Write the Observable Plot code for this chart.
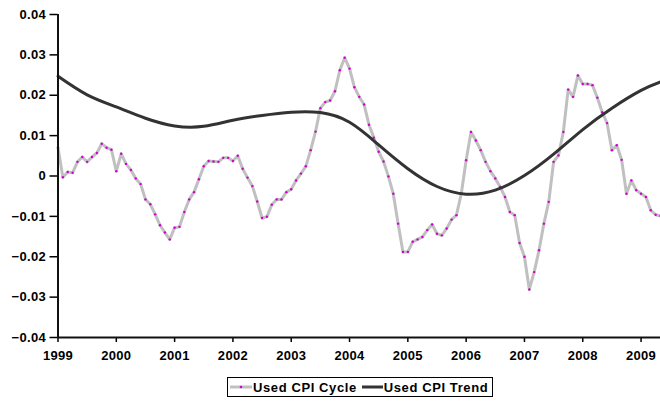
<!DOCTYPE html>
<html>
<head>
<meta charset="utf-8">
<script src="https://cdn.jsdelivr.net/npm/d3@7"></script>
<script src="https://cdn.jsdelivr.net/npm/@observablehq/plot@0.6"></script>
<style>
  html, body { margin: 0; padding: 0; background: #fff; }
  #wrap { position: relative; width: 660px; height: 405px; font-family: "Liberation Sans", Arial, sans-serif; }
  #legend { position: absolute; left: 227px; top: 377px; width: 264px; height: 18px; border: 1px solid #000;
            display: flex; align-items: center; font-weight: bold; font-size: 13px; letter-spacing: 0.6px; color: #000; background:#fff; }
  #legend .item { display: flex; align-items: center; }
  #legend svg { display: block; }
</style>
</head>
<body>
<div id="wrap"><div id="chart"></div><div id="legend"></div></div>
<script>
// Monthly cycle values, starting January 1999
const cycleStartYear = 1999;
const cycle1999 = [0.007, -0.0003, 0.001, 0.0008, 0.0035, 0.0047, 0.0035, 0.0047, 0.0057, 0.008, 0.007, 0.0065];
const cycle2000 = [0.0012, 0.0055, 0.003, 0.0015, -0.0006, -0.002, -0.0058, -0.007, -0.0095, -0.0122, -0.014, -0.0157];
const cycle2001 = [-0.0128, -0.0126, -0.0089, -0.0058, -0.004, -0.0008, 0.0024, 0.0037, 0.0036, 0.0035, 0.0045, 0.0045];
const cycle2002 = [0.0037, 0.005, 0.0018, -0.0004, -0.0025, -0.0063, -0.0104, -0.0101, -0.0071, -0.0058, -0.0058, -0.004];
const cycle2003 = [-0.0033, -0.0011, 0.0006, 0.0024, 0.0064, 0.011, 0.0168, 0.0183, 0.0187, 0.021, 0.0262, 0.0293];
const cycle2004 = [0.0266, 0.022, 0.0196, 0.0177, 0.0127, 0.0095, 0.006, 0.0036, -0.0001, -0.0044, -0.0118, -0.0188];
const cycle2005 = [-0.0188, -0.0163, -0.0157, -0.0151, -0.0134, -0.012, -0.0143, -0.0147, -0.013, -0.0108, -0.0097, -0.0044];
const cycle2006 = [0.0039, 0.0109, 0.0088, 0.0064, 0.0035, 0.0012, -0.0006, -0.0027, -0.0052, -0.0089, -0.0097, -0.0166];
const cycle2007 = [-0.02, -0.0281, -0.0238, -0.0184, -0.0118, -0.0064, 0.0035, 0.0051, 0.0109, 0.0214, 0.0196, 0.0249];
const cycle2008 = [0.0228, 0.0228, 0.0225, 0.0194, 0.0158, 0.0131, 0.0064, 0.0076, 0.004, -0.0044, -0.0011, -0.0035];
const cycle2009 = [-0.0044, -0.0052, -0.0085, -0.0096, -0.0099];

// Trend, read every half year
const trendYears  = [1999, 1999.5, 2000, 2000.5, 2001, 2001.5, 2002, 2002.5, 2003, 2003.5, 2004, 2004.5, 2005, 2005.5, 2006, 2006.5, 2007, 2007.5, 2008, 2008.5, 2009, 2009.3333];
const trendValues = [0.0247, 0.0201, 0.0171, 0.0143, 0.0124, 0.0123, 0.0138, 0.015, 0.0158, 0.0157, 0.0133, 0.0077, 0.0018, -0.0026, -0.0045, -0.0035, 0.0001, 0.0054, 0.0115, 0.0168, 0.0212, 0.0233];

const xTicks = [1999, 2000, 2001, 2002, 2003, 2004, 2005, 2006, 2007, 2008, 2009];
const yTicks = [-0.04, -0.03, -0.02, -0.01, 0, 0.01, 0.02, 0.03, 0.04];
const seriesNames = ["Used CPI Cycle", "Used CPI Trend"];

const cycleValues = [].concat(cycle1999, cycle2000, cycle2001, cycle2002, cycle2003, cycle2004, cycle2005, cycle2006, cycle2007, cycle2008, cycle2009);
const cycleData = cycleValues.map((v, i) => ({t: cycleStartYear + i / 12, v}));
const trendData = trendYears.map((t, i) => ({t, v: trendValues[i]}));

const fmtY = d => d === 0 ? "0" : d3.format(".2f")(d);

const chart = Plot.plot({
  width: 660,
  height: 372,
  marginLeft: 57.5,
  marginRight: 0,
  marginTop: 14,
  marginBottom: 35,
  style: {fontFamily: '"Liberation Sans", Arial, sans-serif', fontSize: "13px", fontWeight: "bold", color: "#000", background: "#fff", letterSpacing: "0.3px"},
  x: {domain: [1999, 2009 + 4 / 12]},
  y: {domain: [-0.04, 0.04]},
  marks: [
    Plot.axisX({ticks: xTicks, tickFormat: d => String(d), tickSize: 5, tickPadding: 8, strokeWidth: 1.5, label: null}),
    Plot.axisY({ticks: yTicks, tickFormat: fmtY, tickSize: 8, tickPadding: 4, strokeWidth: 1.5, label: null}),
    Plot.line(cycleData, {x: "t", y: "v", stroke: "#c0c0c0", strokeWidth: 3}),
    Plot.dot(cycleData, {x: "t", y: "v", r: 1.2, fill: "#d000d0", stroke: "none"}),
    Plot.line(trendData, {x: "t", y: "v", stroke: "#333", strokeWidth: 3, curve: "natural"}),
    Plot.ruleX([1999], {stroke: "#111", strokeWidth: 2}),
    Plot.ruleY([-0.04], {stroke: "#111", strokeWidth: 2})
  ]
});
document.getElementById("chart").appendChild(chart);

// Legend
const legend = d3.select("#legend");
const it1 = legend.append("div").attr("class", "item").style("margin-left", "2px");
const s1 = it1.append("svg").attr("width", 22).attr("height", 10);
s1.append("line").attr("x1", 0).attr("x2", 22).attr("y1", 5).attr("y2", 5).attr("stroke", "#c0c0c0").attr("stroke-width", 3);
s1.append("circle").attr("cx", 11).attr("cy", 5).attr("r", 1.3).attr("fill", "#d000d0");
it1.append("span").text(seriesNames[0]).style("margin-left", "1px");
const it2 = legend.append("div").attr("class", "item").style("margin-left", "5px");
const s2 = it2.append("svg").attr("width", 21).attr("height", 10);
s2.append("line").attr("x1", 0).attr("x2", 21).attr("y1", 5).attr("y2", 5).attr("stroke", "#333").attr("stroke-width", 3);
it2.append("span").text(seriesNames[1]).style("margin-left", "1px");
</script>
</body>
</html>
